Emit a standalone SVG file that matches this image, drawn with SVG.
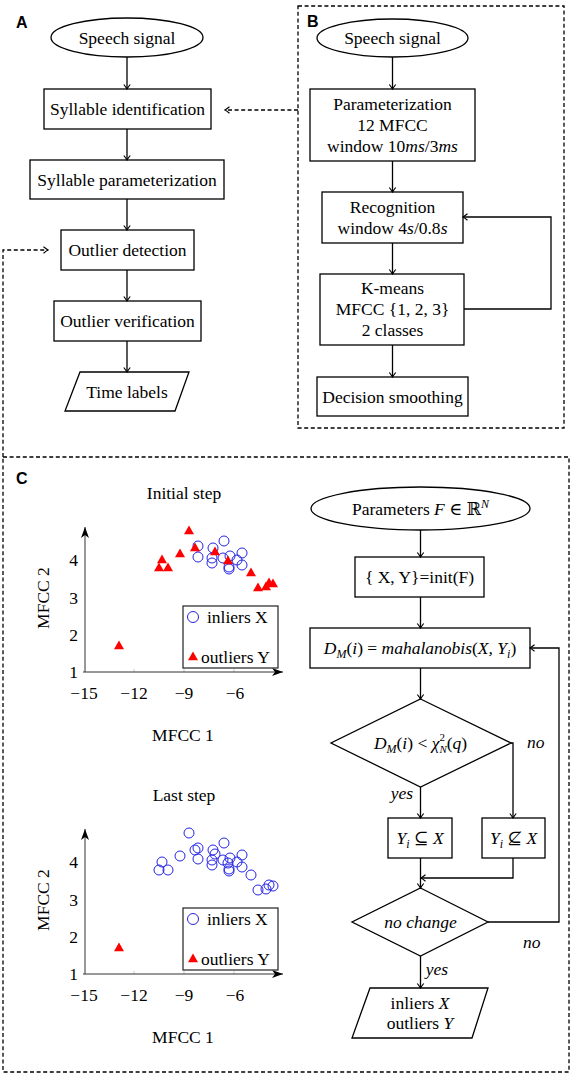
<svg xmlns="http://www.w3.org/2000/svg" width="572" height="1074" viewBox="0 0 572 1074">
<style>
text{font-family:"Liberation Serif","DejaVu Serif",serif;font-size:17.5px;fill:#000}
.c{text-anchor:middle}
.i{font-style:italic}
.lab{font-family:"Liberation Sans",Arial,sans-serif;font-weight:bold;font-size:16px}
.n{fill:#fff;stroke:#000;stroke-width:1.3}
.e{fill:none;stroke:#000;stroke-width:1.3}
.d{fill:none;stroke:#000;stroke-width:1.3;stroke-dasharray:4 2.6}
.ax{fill:none;stroke:#333;stroke-width:1}
.tk{stroke:#bbb;stroke-width:0.8}
.bc{fill:none;stroke:#2424e6;stroke-width:1}
</style>
<defs>
<marker id="ah" viewBox="-7 -5 8 10" refX="0" refY="0" markerWidth="8" markerHeight="10" orient="auto" markerUnits="userSpaceOnUse"><path d="M-4.5,-3.2 Q-1.3,-0.7 0,0 Q-1.3,0.7 -4.5,3.2" fill="none" stroke="#000" stroke-width="1.2"/></marker>
<marker id="st" viewBox="-12 -6 13 12" refX="0" refY="0" markerWidth="13" markerHeight="12" orient="auto" markerUnits="userSpaceOnUse"><path d="M-11,-4 L0,0 L-11,4 L-8,0 Z" fill="#000"/></marker>
<path id="tri" d="M0,-5.5 L5,3.3 L-5,3.3 Z" fill="#ff0000"/>
</defs>

<!-- Panel frames -->
<g id="frameB"><rect x="298" y="6" width="266" height="422" class="d"/><text x="307" y="27" class="lab">B</text></g>
<g id="frameC"><rect x="3" y="457" width="566" height="615" class="d"/><text x="16" y="484" class="lab">C</text></g>
<text id="labA" x="16" y="28" class="lab">A</text>

<!-- Panel A nodes -->
<g id="a1"><ellipse cx="127" cy="37.5" rx="76" ry="19.5" class="n"/><text x="127" y="43.5" class="c">Speech signal</text></g>
<g id="a2"><rect x="44" y="89" width="167" height="40" class="n"/><text x="127.5" y="115" class="c">Syllable identification</text></g>
<g id="a3"><rect x="30" y="160" width="194" height="39" class="n"/><text x="127" y="185.5" class="c">Syllable parameterization</text></g>
<g id="a4"><rect x="61" y="230" width="133" height="40" class="n"/><text x="127.5" y="256" class="c">Outlier detection</text></g>
<g id="a5"><rect x="54" y="301" width="147" height="40" class="n"/><text x="127.5" y="327" class="c">Outlier verification</text></g>
<g id="a6"><path d="M80,372 L189,372 L175,411 L65,411 Z" class="n"/><text x="127" y="397.5" class="c">Time labels</text></g>

<!-- Panel B nodes -->
<g id="b1"><ellipse cx="392.5" cy="38" rx="75.5" ry="19" class="n"/><text x="392.5" y="44" class="c">Speech signal</text></g>
<g id="b2"><rect x="310" y="89" width="165" height="72" class="n"/>
<text x="392.5" y="110" class="c">Parameterization</text>
<text x="392.5" y="131" class="c">12 MFCC</text>
<text x="392.5" y="152" class="c">window 10<tspan class="i">ms</tspan>/3<tspan class="i">ms</tspan></text></g>
<g id="b3"><rect x="322" y="192" width="141" height="51" class="n"/>
<text x="392.5" y="213" class="c">Recognition</text>
<text x="392.5" y="234" class="c">window 4<tspan class="i">s</tspan>/0.8<tspan class="i">s</tspan></text></g>
<g id="b4"><rect x="320" y="274" width="144" height="71" class="n"/>
<text x="392.5" y="294" class="c">K-means</text>
<text x="392.5" y="315" class="c">MFCC {1, 2, 3}</text>
<text x="392.5" y="335.5" class="c">2 classes</text></g>
<g id="b5"><rect x="317" y="377" width="151" height="39" class="n"/><text x="392.5" y="402.5" class="c">Decision smoothing</text></g>

<!-- Panel C flowchart nodes -->
<g id="c1"><ellipse cx="420.5" cy="508.5" rx="109.5" ry="21.5" class="n"/>
<text x="420.5" y="514.5" class="c">Parameters <tspan class="i">F</tspan> ∈ ℝ<tspan class="i" font-size="12" dy="-7">N</tspan></text></g>
<g id="c2"><rect x="355" y="557" width="129" height="40" class="n"/><text x="419.5" y="583" class="c">{ X, Y}=init(F)</text></g>
<g id="c3"><rect x="310" y="628" width="220" height="40" class="n"/>
<text x="420" y="654" class="c"><tspan class="i">D</tspan><tspan class="i" font-size="12" dy="4">M</tspan><tspan dy="-4">(</tspan><tspan class="i">i</tspan>) = <tspan class="i">mahalanobis</tspan>(<tspan class="i">X, Y</tspan><tspan class="i" font-size="12" dy="4">i</tspan><tspan dy="-4">)</tspan></text></g>
<g id="c4"><path d="M420.5,699 L511,743 L420.5,787 L331,743 Z" class="n"/>
<text x="420.5" y="749" class="c"><tspan class="i">D</tspan><tspan class="i" font-size="12" dy="4">M</tspan><tspan dy="-4">(</tspan><tspan class="i">i</tspan>) &lt; <tspan class="i">χ</tspan><tspan font-size="11" dy="-8">2</tspan><tspan class="i" font-size="11" dx="-5.5" dy="12">N</tspan><tspan dy="-4">(</tspan><tspan class="i">q</tspan>)</text></g>
<g id="c5"><rect x="388" y="818" width="64" height="40" class="n"/>
<text x="420" y="844" class="c"><tspan class="i">Y</tspan><tspan class="i" font-size="12" dy="4">i</tspan><tspan dy="-4"> ⊆ </tspan><tspan class="i">X</tspan></text></g>
<g id="c6"><rect x="482" y="818" width="63" height="40" class="n"/>
<text x="513.5" y="844" class="c"><tspan class="i">Y</tspan><tspan class="i" font-size="12" dy="4">i</tspan><tspan dy="-4"> ⊈ </tspan><tspan class="i">X</tspan></text></g>
<g id="c7"><path d="M420.5,888 L488,922 L420.5,956 L352,922 Z" class="n"/><text x="420.5" y="928" class="c i">no change</text></g>
<g id="c8"><path d="M370,988 L488,988 L472,1038 L352,1038 Z" class="n"/>
<text x="420" y="1008.5" class="c">inliers <tspan class="i">X</tspan></text>
<text x="420" y="1029" class="c">outliers <tspan class="i">Y</tspan></text></g>

<!-- Plot 1 -->
<g id="plot1">
<text x="184" y="499" class="c">Initial step</text>
<line x1="134" y1="672" x2="134" y2="669" class="tk"/><line x1="184" y1="672" x2="184" y2="669" class="tk"/><line x1="234" y1="672" x2="234" y2="669" class="tk"/>
<path d="M85,672 V527" class="ax" marker-end="url(#st)"/>
<path d="M83,672 H283" class="ax" marker-end="url(#st)"/>
<text x="78" y="566" text-anchor="end">4</text><text x="78" y="603.5" text-anchor="end">3</text><text x="78" y="641" text-anchor="end">2</text><text x="78" y="678" text-anchor="end">1</text>
<text x="84" y="699" class="c">−15</text><text x="134" y="699" class="c">−12</text><text x="184" y="699" class="c">−9</text><text x="235" y="699" class="c">−6</text>
<text x="49" y="598" class="c" transform="rotate(-90 49 598)">MFCC 2</text>
<text x="183" y="741" class="c">MFCC 1</text>
<g>
<circle cx="198" cy="546" r="5" class="bc"/><circle cx="198" cy="557" r="5" class="bc"/><circle cx="213" cy="548" r="5" class="bc"/><circle cx="212" cy="558" r="5" class="bc"/><circle cx="212" cy="563" r="5" class="bc"/><circle cx="224" cy="541" r="5" class="bc"/><circle cx="223" cy="558" r="5" class="bc"/><circle cx="230" cy="556" r="5" class="bc"/><circle cx="229" cy="569" r="5" class="bc"/><circle cx="229" cy="567" r="5" class="bc"/><circle cx="237" cy="560" r="5" class="bc"/><circle cx="242" cy="553" r="5" class="bc"/><circle cx="242" cy="565" r="5" class="bc"/>
<use href="#tri" x="189" y="531"/><use href="#tri" x="195" y="548"/><use href="#tri" x="215" y="552"/><use href="#tri" x="180" y="554"/><use href="#tri" x="162" y="560"/><use href="#tri" x="159" y="568"/><use href="#tri" x="168" y="568"/><use href="#tri" x="228" y="561"/><use href="#tri" x="251" y="573"/><use href="#tri" x="258" y="588"/><use href="#tri" x="266" y="587"/><use href="#tri" x="269" y="583"/><use href="#tri" x="273" y="584"/><use href="#tri" x="119" y="646"/>
</g>
<rect x="183" y="606" width="95" height="62" fill="#fff" stroke="#222" stroke-width="1.2"/>
<circle cx="193" cy="617" r="5.5" class="bc" stroke-width="1.4"/><text x="207" y="622.5">inliers X</text>
<use href="#tri" x="193" y="657"/><text x="201" y="662.5">outliers Y</text>
</g>

<!-- Plot 2 -->
<g id="plot2" transform="translate(0,302)">
<text x="184" y="499" class="c">Last step</text>
<line x1="134" y1="672" x2="134" y2="669" class="tk"/><line x1="184" y1="672" x2="184" y2="669" class="tk"/><line x1="234" y1="672" x2="234" y2="669" class="tk"/>
<path d="M85,672 V527" class="ax" marker-end="url(#st)"/>
<path d="M83,672 H283" class="ax" marker-end="url(#st)"/>
<text x="78" y="566" text-anchor="end">4</text><text x="78" y="603.5" text-anchor="end">3</text><text x="78" y="641" text-anchor="end">2</text><text x="78" y="678" text-anchor="end">1</text>
<text x="84" y="699" class="c">−15</text><text x="134" y="699" class="c">−12</text><text x="184" y="699" class="c">−9</text><text x="235" y="699" class="c">−6</text>
<text x="49" y="598" class="c" transform="rotate(-90 49 598)">MFCC 2</text>
<text x="183" y="741" class="c">MFCC 1</text>
<g>
<circle cx="198" cy="546" r="5" class="bc"/><circle cx="198" cy="557" r="5" class="bc"/><circle cx="213" cy="548" r="5" class="bc"/><circle cx="212" cy="558" r="5" class="bc"/><circle cx="212" cy="563" r="5" class="bc"/><circle cx="224" cy="541" r="5" class="bc"/><circle cx="223" cy="558" r="5" class="bc"/><circle cx="230" cy="556" r="5" class="bc"/><circle cx="229" cy="569" r="5" class="bc"/><circle cx="229" cy="567" r="5" class="bc"/><circle cx="237" cy="560" r="5" class="bc"/><circle cx="242" cy="553" r="5" class="bc"/><circle cx="242" cy="565" r="5" class="bc"/>
<circle cx="189" cy="531" r="5" class="bc"/><circle cx="195" cy="548" r="5" class="bc"/><circle cx="215" cy="552" r="5" class="bc"/><circle cx="180" cy="554" r="5" class="bc"/><circle cx="162" cy="560" r="5" class="bc"/><circle cx="159" cy="568" r="5" class="bc"/><circle cx="168" cy="568" r="5" class="bc"/><circle cx="228" cy="561" r="5" class="bc"/><circle cx="251" cy="573" r="5" class="bc"/><circle cx="258" cy="588" r="5" class="bc"/><circle cx="266" cy="587" r="5" class="bc"/><circle cx="269" cy="583" r="5" class="bc"/><circle cx="273" cy="584" r="5" class="bc"/>
<use href="#tri" x="119" y="646"/>
</g>
<rect x="183" y="606" width="95" height="62" fill="#fff" stroke="#222" stroke-width="1.2"/>
<circle cx="193" cy="617" r="5.5" class="bc" stroke-width="1.4"/><text x="207" y="622.5">inliers X</text>
<use href="#tri" x="193" y="657"/><text x="201" y="662.5">outliers Y</text>
</g>

<!-- Connectors -->
<g id="connectors">
<path d="M127,57 V89" class="e" marker-end="url(#ah)"/>
<path d="M127,129 V160" class="e" marker-end="url(#ah)"/>
<path d="M127,199 V230" class="e" marker-end="url(#ah)"/>
<path d="M127,270 V301" class="e" marker-end="url(#ah)"/>
<path d="M127,341 V372" class="e" marker-end="url(#ah)"/>
<path d="M298,110 H225" class="d" marker-end="url(#ah)"/>
<path d="M3,457 V250 H48" class="d" marker-end="url(#ah)"/>
<path d="M392.5,57 V89" class="e" marker-end="url(#ah)"/>
<path d="M392.5,161 V192" class="e" marker-end="url(#ah)"/>
<path d="M392.5,243 V274" class="e" marker-end="url(#ah)"/>
<path d="M392.5,345 V377" class="e" marker-end="url(#ah)"/>
<path d="M464,309 H551 V217 H463" class="e" marker-end="url(#ah)"/>
<path d="M420.5,530 V557" class="e" marker-end="url(#ah)"/>
<path d="M420.5,597 V628" class="e" marker-end="url(#ah)"/>
<path d="M420.5,668 V699" class="e" marker-end="url(#ah)"/>
<path d="M420.5,787 V818" class="e" marker-end="url(#ah)"/>
<path d="M511,743 H513 V818" class="e" marker-end="url(#ah)"/>
<path d="M420.5,858 V888" class="e" marker-end="url(#ah)"/>
<path d="M513,858 V878 H421" class="e" marker-end="url(#ah)"/>
<path d="M488,922 H559 V648 H530" class="e" marker-end="url(#ah)"/>
<path d="M420.5,956 V988" class="e" marker-end="url(#ah)"/>
<text x="527" y="748" class="i">no</text>
<text x="402" y="799" class="c i">yes</text>
<text x="523" y="948" class="i">no</text>
<text x="437" y="975" class="c i">yes</text>
</g>
</svg>
